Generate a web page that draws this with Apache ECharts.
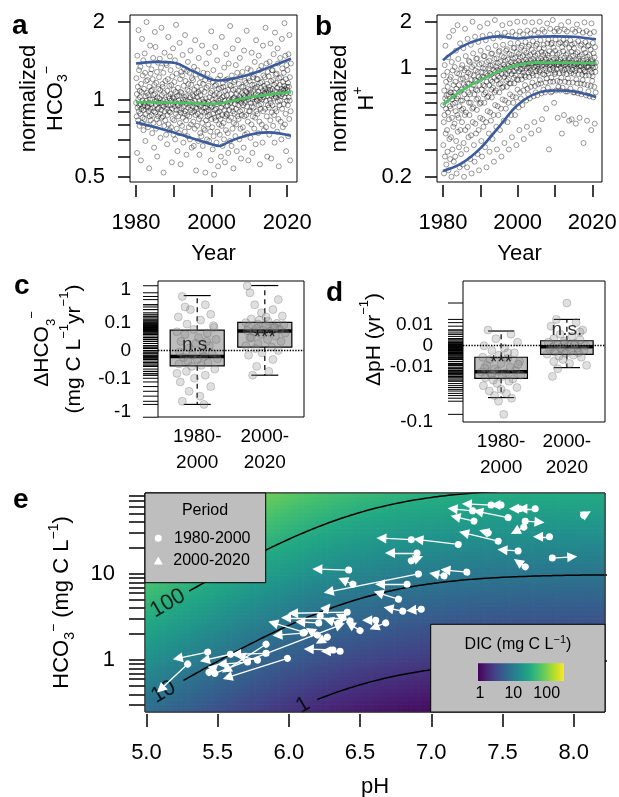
<!DOCTYPE html>
<html lang="en">
<head>
<meta charset="UTF-8">
<title>HCO3 and pH trends</title>
<style>
  html, body { margin: 0; padding: 0; background: #fff; }
  #main { width: 619px; height: 797px; }
</style>
</head>
<body>
<div id="main"></div>
<script src="https://cdn.jsdelivr.net/npm/echarts@6/dist/echarts.min.js"></script>
<script>
var FONT = '"Liberation Sans", Arial, sans-serif';

// ---- panels a, b: normalized samples, one row per year from 1980 ----
var firstYear = 1980;
var hco3Rows = [
  [0.97,1.21,0.86,1.05,0.62,1.48,0.93,1.12,0.83,1.0,1.86,0.9,1.3,0.95,0.79,1.08],
  [1.02,0.88,1.34,0.96,0.58,1.15,0.92,1.07,0.81,1.72,0.99,0.85,1.24,0.94,1.42,0.76],
  [0.91,1.1,0.97,0.84,1.51,0.95,1.27,0.69,1.03,0.88,1.18,0.99,2.0,0.8,1.06,0.93],
  [1.19,0.94,0.78,1.04,0.9,1.37,0.97,0.54,1.12,0.86,1.0,1.62,0.92,1.26,0.83,1.08],
  [0.96,1.31,0.87,1.09,0.74,1.0,1.2,0.93,1.45,0.81,1.04,0.9,0.65,1.14,0.98,1.83],
  [1.05,0.89,1.6,0.95,0.77,1.16,0.99,0.84,1.28,0.6,1.02,0.92,1.39,0.86,1.1,0.97],
  [0.93,1.22,0.81,1.01,1.44,0.88,1.09,0.71,0.97,1.33,0.91,1.9,0.85,1.04,0.95,1.15],
  [1.12,0.86,0.99,1.27,0.52,0.94,1.06,0.79,1.52,0.9,1.0,0.83,1.18,0.96,1.38,0.73],
  [0.98,1.36,0.92,0.67,1.08,0.87,1.2,0.95,1.75,0.8,1.03,0.9,1.13,0.76,1.01,1.47],
  [0.89,1.05,1.3,0.95,0.78,1.14,0.99,0.57,0.92,1.23,0.84,1.02,1.58,0.96,0.73,1.09],
  [1.01,0.83,1.17,0.94,1.42,0.7,0.98,1.07,0.88,1.95,0.91,1.26,0.77,1.03,0.96,0.63],
  [0.95,1.11,0.86,1.35,0.99,0.74,1.04,0.91,1.66,0.81,1.2,0.97,0.56,1.07,0.89,1.28],
  [1.06,0.92,0.79,1.24,0.97,1.49,0.85,1.0,0.68,1.13,0.94,1.31,0.88,1.02,0.75,1.78],
  [0.9,1.18,1.0,0.83,1.03,0.61,0.96,1.29,0.87,1.09,0.72,1.4,0.93,1.15,0.98,0.78],
  [1.08,0.86,1.27,0.95,0.7,1.02,1.55,0.91,0.8,1.14,0.98,0.65,1.21,0.89,1.04,0.94],
  [0.97,1.19,0.82,1.03,0.66,1.34,0.9,1.09,0.77,0.99,1.7,0.87,1.25,0.93,0.53,1.06],
  [0.92,1.12,0.79,1.02,1.3,0.88,0.96,0.69,1.07,1.45,0.84,0.99,0.61,1.16,0.94,0.74],
  [1.04,0.86,1.22,0.95,0.72,1.09,0.9,1.62,0.81,1.0,0.66,1.15,0.93,1.27,0.77,0.98],
  [0.89,1.07,0.97,0.76,1.19,0.52,0.93,1.01,0.83,1.38,0.9,1.11,0.7,0.96,1.26,0.86],
  [0.98,0.8,1.13,0.91,1.52,0.69,1.02,0.87,1.2,0.95,0.75,1.06,0.58,0.93,1.84,0.84],
  [0.94,1.08,0.78,1.0,0.64,1.17,0.88,1.3,0.72,0.97,0.51,1.04,0.85,1.13,0.91,1.6],
  [1.01,0.83,1.14,0.92,0.68,1.06,0.96,1.42,0.75,0.89,1.2,0.55,0.99,0.86,1.1,0.8],
  [0.9,1.05,0.73,0.97,1.24,0.84,1.0,0.6,1.11,0.93,0.79,1.75,0.87,1.02,0.66,1.16],
  [0.96,1.12,0.81,1.03,0.7,1.33,0.91,0.99,0.57,1.08,0.86,1.19,0.76,0.94,1.5,0.88],
  [1.04,0.87,1.2,0.95,0.74,1.09,0.62,0.99,1.38,0.83,1.0,0.91,1.14,0.69,1.93,0.97],
  [0.98,1.13,0.85,1.05,0.66,1.24,0.93,1.0,0.77,1.58,0.9,1.09,0.54,1.01,0.81,1.17],
  [1.02,0.88,1.19,0.96,0.72,1.1,1.36,0.92,0.8,1.05,0.63,0.99,1.27,0.86,1.0,1.7],
  [0.95,1.08,0.84,1.15,0.99,0.7,1.03,1.45,0.9,1.22,0.77,1.01,0.59,0.97,1.12,0.87],
  [1.06,0.91,1.28,1.0,0.78,1.12,0.95,0.65,1.04,1.55,0.86,1.18,0.97,0.73,1.08,1.02],
  [0.99,1.16,0.87,1.07,1.85,0.94,0.74,1.02,1.32,0.82,1.1,0.58,1.0,1.21,0.9,1.04],
  [1.03,1.18,0.9,1.09,0.71,1.3,0.97,1.06,0.8,1.52,0.94,1.14,0.62,1.0,0.86,1.22],
  [1.08,0.93,1.25,1.02,0.77,1.14,1.4,0.98,0.85,1.11,0.67,1.05,1.7,0.9,1.0,1.2],
  [0.99,1.12,0.88,1.2,1.04,0.74,1.07,1.48,0.95,1.3,0.82,1.02,0.56,1.01,1.16,0.92],
  [1.11,0.96,1.35,1.04,0.8,1.17,1.0,0.68,1.08,1.62,0.9,1.24,1.02,0.76,1.13,1.06],
  [1.05,1.22,0.92,1.1,1.9,0.99,0.78,1.07,1.38,0.86,1.15,0.6,1.03,1.28,0.95,1.09],
  [1.06,1.23,0.93,1.12,0.73,1.4,1.0,1.09,0.83,1.65,0.97,1.18,0.59,1.03,0.89,1.3],
  [1.1,0.95,1.3,1.05,0.79,1.19,1.5,1.01,0.87,1.14,0.68,1.08,1.82,0.92,1.03,1.25],
  [1.02,1.16,0.9,1.26,1.07,0.75,1.11,1.58,0.98,1.38,0.84,1.05,0.55,1.04,1.21,0.95],
  [1.14,0.99,1.45,1.07,0.82,1.22,1.03,0.7,1.1,1.72,0.92,1.32,1.05,0.78,1.17,1.09],
  [1.08,1.27,0.96,1.13,1.98,1.02,0.8,1.1,1.48,0.88,1.2,0.63,1.06,1.36,0.99,1.12],
  [1.09,1.3,0.95,1.16,0.72,1.5,1.02,1.12,0.84,1.78,0.99,1.22,0.58,1.06,0.9,1.38]
];
var hRows = [
  [0.58,0.32,0.9,0.45,0.21,0.72,0.5,1.05,0.27,0.64,1.4,0.38,0.55,0.82,0.24,0.67],
  [0.62,0.4,0.95,0.29,0.76,0.52,1.18,0.22,0.68,0.47,1.6,0.35,0.85,0.57,0.26,0.7],
  [0.55,0.88,0.36,0.7,0.2,1.1,0.48,0.63,0.3,0.97,0.59,1.75,0.42,0.78,0.25,0.66],
  [0.7,0.44,1.02,0.6,0.27,0.82,0.53,1.3,0.34,0.74,0.21,0.64,0.93,0.5,1.9,0.39],
  [0.66,1.15,0.48,0.78,0.31,0.92,0.57,0.23,0.71,1.45,0.4,0.85,0.62,0.28,1.0,0.54],
  [0.73,0.45,1.05,0.62,0.24,0.86,0.55,1.35,0.33,0.79,0.2,0.68,0.97,0.5,1.8,0.4],
  [0.76,1.2,0.52,0.88,0.3,1.0,0.64,0.23,0.8,1.55,0.42,0.94,0.7,0.36,1.12,0.6],
  [0.8,0.5,1.1,0.68,0.26,0.92,0.6,1.42,0.37,0.84,0.21,0.74,1.02,0.55,2.0,0.45],
  [0.78,1.25,0.56,0.9,0.32,1.05,0.68,0.25,0.84,1.6,0.44,0.97,0.73,0.38,1.15,0.63],
  [0.83,0.54,1.16,0.72,0.28,0.95,0.64,1.48,0.4,0.88,0.22,0.78,1.06,0.59,1.85,0.48],
  [0.85,1.3,0.6,0.95,0.34,1.08,0.73,0.27,0.88,1.62,0.47,1.0,0.78,0.42,1.2,0.68],
  [0.88,0.6,1.2,0.77,0.31,1.0,0.7,1.52,0.45,0.92,0.23,0.82,1.1,0.65,1.95,0.53],
  [0.9,1.35,0.66,1.0,0.38,1.12,0.78,0.29,0.93,1.65,0.52,1.04,0.84,0.46,1.24,0.73],
  [0.92,0.65,1.25,0.82,0.35,1.05,0.75,1.56,0.5,0.97,0.25,0.87,1.15,0.7,2.05,0.58],
  [0.95,1.4,0.72,1.03,0.42,1.16,0.84,0.3,0.98,1.68,0.57,1.08,0.89,0.5,1.28,0.79],
  [0.96,0.7,1.3,0.87,0.4,1.1,0.8,1.6,0.55,1.0,0.27,0.92,1.2,0.75,1.9,0.63],
  [0.99,1.42,0.76,1.06,0.46,1.18,0.88,0.33,1.02,1.7,0.62,1.12,0.92,0.55,1.3,0.83],
  [1.0,0.76,1.33,0.92,0.45,1.14,0.85,1.62,0.6,1.04,0.3,0.96,1.24,0.8,1.95,0.68],
  [1.02,1.45,0.8,1.1,0.5,1.22,0.92,0.36,1.06,1.72,0.66,1.16,0.96,0.6,1.35,0.87],
  [1.04,0.8,1.36,0.96,0.5,1.17,0.9,1.64,0.65,1.08,0.32,1.0,1.27,0.85,2.0,0.73],
  [1.05,1.46,0.84,1.12,0.56,1.24,0.96,0.4,1.08,1.73,0.7,1.18,0.99,0.64,1.36,0.9],
  [1.06,0.85,1.4,0.99,0.58,1.2,0.94,1.66,0.72,1.1,0.35,1.03,1.3,0.9,2.0,0.78],
  [1.07,1.48,0.88,1.14,0.62,1.26,1.0,0.42,1.1,1.75,0.74,1.2,1.02,0.68,1.38,0.94],
  [1.08,0.88,1.42,1.01,0.64,1.22,0.97,1.68,0.76,1.12,0.38,1.05,1.32,0.93,1.98,0.81],
  [1.08,1.5,0.9,1.15,0.66,1.27,1.02,0.45,1.11,1.76,0.77,1.21,1.04,0.7,1.4,0.96],
  [1.09,0.9,1.44,1.03,0.67,1.24,0.99,1.7,0.79,1.13,0.4,1.06,1.34,0.95,2.0,0.84],
  [0.97,1.52,1.09,0.8,1.16,0.69,1.28,1.04,0.47,1.12,1.78,0.92,1.22,1.05,0.73,1.42],
  [1.35,1.1,0.91,1.72,1.04,0.7,1.25,1.0,0.81,1.14,0.55,1.07,0.86,0.96,1.95,1.45],
  [1.22,0.75,1.09,1.53,0.93,1.17,0.3,1.29,1.05,0.98,1.12,1.8,0.82,1.06,0.7,1.43],
  [0.87,1.1,1.46,0.71,1.05,1.25,2.05,1.01,0.82,1.36,0.97,1.14,0.6,1.07,1.73,0.92],
  [1.3,0.94,1.54,1.09,0.72,1.17,1.05,0.99,1.8,0.83,1.23,0.48,1.13,1.06,0.76,1.44],
  [1.05,1.74,0.93,1.26,1.1,0.82,1.47,0.72,1.14,1.01,1.9,0.87,1.07,0.38,1.37,0.97],
  [0.75,1.09,1.29,0.94,1.53,1.05,0.5,1.17,0.98,1.78,1.12,0.82,1.43,1.06,0.71,1.22],
  [1.46,0.92,1.09,1.73,1.04,0.71,1.25,0.86,1.0,2.0,0.81,1.13,0.46,1.36,1.06,0.96],
  [1.16,1.52,0.74,1.09,1.04,0.93,1.28,0.47,1.42,1.12,0.98,1.78,0.81,1.21,0.7,1.05],
  [0.92,1.35,1.08,0.7,1.45,1.04,1.72,0.96,1.24,0.44,1.13,0.85,1.0,1.06,1.92,0.8],
  [1.27,1.08,0.69,1.5,1.15,0.92,1.03,1.76,0.97,0.48,1.2,1.11,0.73,1.4,0.8,1.04],
  [1.03,0.68,1.43,1.23,0.91,1.08,0.84,1.7,1.12,0.99,0.33,1.33,1.05,0.79,1.98,0.95],
  [0.96,1.26,1.48,0.9,1.08,0.67,1.14,1.74,1.02,0.46,1.19,0.78,1.39,1.1,1.03,0.71],
  [1.41,1.02,0.9,1.22,0.66,1.68,1.08,0.98,1.32,0.77,1.11,0.4,1.95,0.94,1.04,0.83],
  [1.13,0.89,1.46,1.01,0.65,1.25,1.08,1.72,0.76,1.18,0.44,1.37,1.02,0.95,0.7,1.09]
];

// smoothed quantile curves
var qYearsA = [1980, 1985, 1990, 1995, 2000, 2002, 2005, 2010, 2015, 2021];
var hco3Upper = [1.38, 1.40, 1.39, 1.29, 1.195, 1.185, 1.20, 1.25, 1.33, 1.44];
var hco3Median = [0.976, 0.975, 0.972, 0.968, 0.962, 0.965, 0.985, 1.02, 1.045, 1.068];
var hco3Lower = [0.815, 0.78, 0.745, 0.705, 0.67, 0.66, 0.69, 0.73, 0.745, 0.723];
var qYearsB = [1980, 1985, 1990, 1995, 2000, 2005, 2010, 2015, 2021];
var hUpper = [1.13, 1.38, 1.54, 1.61, 1.56, 1.60, 1.61, 1.60, 1.54];
var hMedian = [0.58, 0.72, 0.84, 0.96, 1.05, 1.09, 1.09, 1.085, 1.08];
var hLower = [0.218, 0.244, 0.305, 0.42, 0.58, 0.69, 0.72, 0.71, 0.655];

// ---- panels c, d: site trends [jitter, value] ----
var periods = ['1980-\n2000', '2000-\n2020'];
var dHco3Early = [[0.78,0.62],[1.12,0.35],[0.9,0.25],[1.2,0.18],[0.72,0.15],[1.05,0.12],[0.85,0.09],[1.25,0.07],[0.95,0.06],[0.7,0.05],[1.15,0.045],[0.82,0.04],[1.02,0.03],[1.28,0.025],[0.76,0.02],[0.98,0.015],[1.18,0.01],[0.88,0.005],[1.08,0.0],[0.74,-0.003],[1.22,-0.006],[0.93,-0.01],[1.1,-0.013],[0.8,-0.015],[1.3,-0.018],[1.0,-0.02],[0.86,-0.024],[1.16,-0.028],[0.73,-0.032],[1.06,-0.036],[0.92,-0.04],[1.26,-0.05],[0.84,-0.06],[1.12,-0.08],[0.96,-0.1],[0.75,-0.13],[1.2,-0.18],[0.88,-0.25],[1.04,-0.35],[0.78,-0.5],[1.1,-0.62],[0.82,0.3],[1.24,0.08],[0.7,-0.07],[1.14,0.02]];
var dHco3Late = [[1.74,1.3],[1.78,0.8],[2.2,0.5],[1.85,0.35],[2.12,0.25],[1.95,0.2],[2.26,0.16],[1.8,0.13],[2.05,0.11],[1.72,0.1],[2.18,0.095],[1.9,0.09],[2.28,0.085],[2.02,0.08],[1.76,0.075],[2.14,0.07],[1.88,0.065],[2.22,0.06],[1.98,0.057],[1.74,0.055],[2.08,0.053],[1.84,0.05],[2.3,0.045],[1.94,0.04],[2.16,0.035],[1.8,0.03],[2.04,0.025],[2.24,0.02],[1.9,0.015],[1.72,0.01],[2.1,0.007],[1.86,0.004],[2.2,0.0],[1.96,-0.005],[1.76,-0.01],[2.12,-0.02],[1.88,-0.04],[2.06,-0.06],[1.82,-0.08],[2.19,-1.5],[1.92,0.12],[2.15,0.07],[1.78,0.03],[2.02,0.15]];
var dPhEarly = [[0.8,0.007],[1.15,0.005],[0.92,0.003],[1.25,0.0015],[0.74,0.0],[1.05,-0.001],[0.86,-0.002],[1.2,-0.003],[0.97,-0.004],[0.72,-0.005],[1.1,-0.0055],[0.83,-0.006],[1.28,-0.007],[1.0,-0.008],[0.78,-0.009],[1.14,-0.01],[0.9,-0.011],[1.22,-0.012],[0.95,-0.0125],[0.7,-0.013],[1.07,-0.0135],[0.84,-0.014],[1.3,-0.015],[1.02,-0.016],[0.76,-0.017],[1.18,-0.018],[0.88,-0.019],[1.12,-0.02],[0.94,-0.022],[0.73,-0.024],[1.24,-0.026],[1.0,-0.028],[0.82,-0.03],[1.08,-0.033],[0.9,-0.036],[1.16,-0.04],[0.96,-0.045],[1.04,-0.075],[0.75,-0.0105],[1.26,-0.0085],[0.86,-0.0145],[1.1,-0.003]];
var dPhLate = [[2.0,0.027],[1.84,0.013],[2.14,0.011],[1.76,0.009],[2.24,0.007],[1.9,0.005],[2.08,0.004],[1.8,0.003],[2.2,0.0025],[1.96,0.002],[1.72,0.0015],[2.12,0.001],[1.86,0.0005],[2.28,0.0],[2.02,-0.0003],[1.78,-0.0006],[2.16,-0.001],[1.92,-0.0013],[1.74,-0.0016],[2.26,-0.002],[2.06,-0.0023],[1.82,-0.0026],[2.18,-0.003],[1.98,-0.0033],[1.7,-0.0036],[2.1,-0.004],[1.88,-0.0045],[2.22,-0.005],[1.94,-0.006],[1.8,-0.007],[2.04,-0.008],[2.3,-0.009],[1.86,-0.011],[1.78,-0.016],[2.12,0.0003],[1.9,-0.0008],[2.2,0.006],[1.96,0.0012]];
// [group, lower whisker, q1, median, q3, upper whisker]
var dHco3Box = [[1, -0.62, -0.038, -0.013, 0.057, 0.66], [2, -0.08, 0.007, 0.053, 0.102, 1.32]];
var dPhBox = [[1, -0.039, -0.0175, -0.0128, -0.005, 0.0065], [2, -0.0103, -0.0037, -0.0004, 0.0021, 0.013]];
var dHco3Sig = ['n.s.', '***'];
var dPhSig = ['***', 'n.s.'];
var cTicks = [1, 0.1, 0, -0.1, -1];
var dTicks = [0.01, 0, -0.01, -0.1];

// ---- panel e: site means [pH 1980-2000, HCO3, pH 2000-2020, HCO3] ----
var arrows = [
  [7.42,63,7.25,65],[7.49,63,7.45,63],[7.73,57,7.64,57],[7.62,57,7.58,57],[7.29,54,7.15,57],
  [7.54,45,7.33,53],[7.30,41,7.17,46],[7.66,41,7.76,40],[7.65,35,7.59,31],[7.83,27,7.75,27],
  [7.47,24,7.23,30],[7.40,30,7.37,31],[7.61,18.5,7.50,19],[7.66,12.1,7.61,13.8],[7.85,15.3,7.99,15.8],
  [8.07,48,8.09,50],[7.19,22,6.91,25],[7.25,10.5,7.10,11.1],[7.09,9.5,7.02,10.0],
  [6.86,25,6.65,26],[6.90,17.5,6.71,17.5],[6.86,14.2,6.91,15.3],[6.42,11.1,6.20,11.4],[6.45,7.6,6.38,8.5],
  [6.91,10.0,6.28,6.2],[6.83,7.6,6.64,7.6],[6.77,5.1,6.63,6.0],[6.80,3.7,6.70,4.0],[6.93,3.9,6.86,3.8],
  [6.61,2.9,6.55,2.9],[6.68,2.7,6.60,2.4],
  [6.41,3.6,6.03,3.5],[6.22,3.25,6.27,4.1],[6.38,3.1,5.98,3.1],[6.43,2.85,6.36,3.25],[6.50,2.2,6.43,2.6],
  [6.11,2.1,5.89,2.7],[6.20,1.95,6.15,2.2],[6.27,1.85,6.22,1.66],[6.31,1.31,6.14,1.34],[6.36,1.27,6.26,1.27],
  [5.48,0.70,6.36,2.55],[6.10,2.06,5.92,1.95],[6.35,2.7,6.28,2.9],[6.21,2.7,6.08,2.77],
  [5.29,0.90,5.10,0.46],[5.43,1.24,5.22,1.05],[5.59,1.17,5.41,1.0],[5.44,0.72,5.48,0.83],[5.71,0.95,5.53,0.90],
  [5.78,1.0,5.66,1.11],[5.84,1.53,5.56,0.77],[5.99,1.05,5.57,0.63],[5.84,1.2,5.63,1.17]
];
var dicLevels = [1, 10, 100];
var contourStart = [6.2, 5.26, 5.3];
var contourLabelPh = [6.1, 5.12, 5.15];
var pK1 = 6.47, pK2 = 10.3;

var viridis = ['#440154','#482475','#414487','#355f8d','#2a788e','#21918c','#22a884','#44bf70','#7ad151','#bddf26','#fde725'];

function hexRgb(h) { return [parseInt(h.substr(1,2),16), parseInt(h.substr(3,2),16), parseInt(h.substr(5,2),16)]; }
var viridisRgb = viridis.map(hexRgb);
function viridisColor(f) {
  f = Math.max(0, Math.min(1, f)) * (viridis.length - 1);
  var i = Math.min(Math.floor(f), viridis.length - 2), t = f - i;
  var a = viridisRgb[i], b = viridisRgb[i + 1];
  return 'rgb(' + Math.round(a[0] + (b[0]-a[0])*t) + ',' + Math.round(a[1] + (b[1]-a[1])*t) + ',' + Math.round(a[2] + (b[2]-a[2])*t) + ')';
}
function hco3AtDic(dic, ph) { return dic / (1 + Math.pow(10, pK1 - ph) + Math.pow(10, ph - pK2)); }

var kC = 0.03, kD = 0.011;
function tC(v) { return Math.asinh(v / kC); }
function tD(v) { return Math.asinh(v / kD); }

function cloud(rows) {
  var pts = [];
  rows.forEach(function (row, i) {
    row.forEach(function (v, j) { pts.push([firstYear + i + (j + 0.5) / row.length, v]); });
  });
  return pts;
}
function pairs(xs, ys) { return xs.map(function (x, i) { return [x, ys[i]]; }); }

var G = {
  a: {left: 130, top: 15, width: 167, height: 167},
  b: {left: 437, top: 15, width: 165, height: 167},
  c: {left: 158, top: 281, width: 146, height: 136},
  d: {left: 463, top: 281, width: 142, height: 141},
  e: {left: 145, top: 493, width: 460, height: 219}
};
var grids = ['a','b','c','d','e'].map(function (k) {
  return Object.assign({show: true, borderColor: '#000', borderWidth: 1, backgroundColor: 'transparent', containLabel: false, outerBoundsMode: 'none'}, G[k]);
});

var tickStyle = {color: '#000', width: 1.5};
var labelBase = {color: '#000', fontFamily: FONT};
var richBase = {
  n1: {fontSize: 22, lineHeight: 24, fontFamily: FONT, color: '#000'},
  m: {fontSize: 22, lineHeight: 30, fontFamily: FONT, color: '#000'},
  sb: {fontSize: 14, lineHeight: 14, verticalAlign: 'bottom', fontFamily: FONT, color: '#000'},
  sp: {fontSize: 14, lineHeight: 14, verticalAlign: 'top', fontFamily: FONT, color: '#000'},
  c: {fontSize: 21, lineHeight: 32, fontFamily: FONT, color: '#000'},
  csb: {fontSize: 13, lineHeight: 13, verticalAlign: 'bottom', fontFamily: FONT, color: '#000'},
  csp: {fontSize: 13, lineHeight: 13, verticalAlign: 'top', fontFamily: FONT, color: '#000'}
};
function plain(v) { return String(v); }

function yearAxis(gi) {
  return {
    type: 'value', gridIndex: gi, min: 1978.4, max: 2022.6, offset: 3,
    name: 'Year', nameLocation: 'middle', nameGap: 58,
    nameTextStyle: {fontSize: 22, color: '#000', fontFamily: FONT},
    axisLine: {show: false},
    axisTick: {show: true, length: 12, lineStyle: tickStyle, customValues: [1980, 1990, 2000, 2010, 2020]},
    axisLabel: Object.assign({customValues: [1980, 2000, 2020], margin: 27, fontSize: 22, formatter: plain}, labelBase),
    splitLine: {show: false}
  };
}
function groupAxis(gi) {
  return {
    type: 'value', gridIndex: gi, min: 0.42, max: 2.58,
    axisLine: {show: false}, axisTick: {show: false}, splitLine: {show: false},
    axisLabel: Object.assign({customValues: [1, 2], margin: 7, fontSize: 19, lineHeight: 26,
      formatter: function (v) { return periods[Math.round(v) - 1]; }}, labelBase)
  };
}
function trendAxis(gi, ticks, tf, min, max, margin, name, gap, pad) {
  return {
    type: 'value', gridIndex: gi, min: min, max: max,
    axisLine: {show: false}, axisTick: {show: false}, splitLine: {show: false},
    axisLabel: Object.assign({customValues: ticks.map(tf), margin: margin, fontSize: 19,
      formatter: function (val) {
        for (var i = 0; i < ticks.length; i++) { if (Math.abs(tf(ticks[i]) - val) < 1e-6) return String(ticks[i]); }
        return '';
      }}, labelBase),
    name: name, nameLocation: 'middle', nameRotate: 90, nameGap: gap,
    nameTextStyle: {rich: richBase, padding: pad || 0}
  };
}

var xAxes = [
  yearAxis(0), yearAxis(1), groupAxis(2), groupAxis(3),
  {
    type: 'value', gridIndex: 4, min: 4.99, max: 8.22, offset: 2,
    name: 'pH', nameLocation: 'middle', nameGap: 62,
    nameTextStyle: {fontSize: 22, color: '#000', fontFamily: FONT},
    axisLine: {show: false},
    axisTick: {length: 13, lineStyle: tickStyle, customValues: [5, 5.5, 6, 6.5, 7, 7.5, 8]},
    axisLabel: Object.assign({customValues: [5, 5.5, 6, 6.5, 7, 7.5, 8], margin: 28, fontSize: 22,
      formatter: function (v) { return v.toFixed(1); }}, labelBase),
    splitLine: {show: false}
  }
];

var eMinor = [0.3,0.4,0.5,0.6,0.7,0.8,0.9,1,2,3,4,5,6,7,8,9,10,20,30,40,50,60,70,80];
var yAxes = [
  {
    type: 'log', logBase: 10, gridIndex: 0, min: 0.478, max: 2.13,
    axisLine: {show: false}, splitLine: {show: false}, minorTick: {show: false},
    axisTick: {length: 12, lineStyle: tickStyle, customValues: [0.5, 0.6, 0.7, 0.8, 0.9, 1, 2]},
    axisLabel: Object.assign({customValues: [0.5, 1, 2], margin: 25, fontSize: 22}, labelBase),
    name: '{n1|normalized}\n{m|HCO}{sb|3}{sp|\u2212}', nameLocation: 'middle', nameRotate: 90, nameGap: 38,
    nameTextStyle: {rich: richBase}
  },
  {
    type: 'log', logBase: 10, gridIndex: 1, min: 0.185, max: 2.21,
    axisLine: {show: false}, splitLine: {show: false}, minorTick: {show: false},
    axisTick: {length: 12, lineStyle: tickStyle, customValues: [0.2, 0.3, 0.4, 0.5, 0.6, 0.7, 0.8, 0.9, 1, 2]},
    axisLabel: Object.assign({customValues: [0.2, 1, 2], margin: 25, fontSize: 22}, labelBase),
    name: '{n1|normalized}\n{m|H}{sp|+}', nameLocation: 'middle', nameRotate: 90, nameGap: 40,
    nameTextStyle: {rich: richBase}
  },
  trendAxis(2, cTicks, tC, -4.59, 4.79, 27,
    '{c|\u0394HCO}{csb|3}{csp|\u2212}\n{c|(mg C L}{csp|\u22121}{c|yr}{csp|\u22121}{c|)}', 68),
  trendAxis(3, dTicks, tD, -2.91, 2.47, 30,
    '{c|\u0394pH (yr}{csp|\u22121}{c|)}', 73, [0, 0, 0, 24]),
  {
    type: 'log', logBase: 10, gridIndex: 4, min: 0.25, max: 87,
    axisLine: {show: false}, splitLine: {show: false}, minorTick: {show: false},
    axisTick: {length: 16, lineStyle: tickStyle, customValues: eMinor},
    axisLabel: Object.assign({customValues: [1, 10], margin: 30, fontSize: 22}, labelBase),
    name: '{m|HCO}{sb|3}{sp|\u2212}{m| (mg C L}{sp|\u22121}{m|)}', nameLocation: 'middle', nameRotate: 90, nameGap: 68,
    nameTextStyle: {rich: richBase}
  }
];

// background DIC field
var heat = [];
(function () {
  var NX = 96, NY = 56, x0 = 4.99, x1 = 8.22, l0 = Math.log10(0.25), l1 = Math.log10(87);
  for (var i = 0; i < NX; i++) {
    for (var j = 0; j < NY; j++) {
      var pa = x0 + (x1 - x0) * i / NX, pb = x0 + (x1 - x0) * (i + 1) / NX;
      var la = l0 + (l1 - l0) * j / NY, lb = l0 + (l1 - l0) * (j + 1) / NY;
      var pc = (pa + pb) / 2, lc = (la + lb) / 2;
      var dic = Math.pow(10, lc) * (1 + Math.pow(10, pK1 - pc) + Math.pow(10, pc - pK2));
      heat.push([pa, pb, Math.pow(10, la), Math.pow(10, lb), (Math.log10(dic) + 0.6) / 4.2]);
    }
  }
})();

function contour(level, start) {
  var pts = [];
  for (var ph = start; ph <= 8.3; ph += 0.02) pts.push([ph, hco3AtDic(level, ph)]);
  return pts;
}

function boxRender(params, api) {
  var x = api.value(0);
  var lo = api.coord([x, api.value(1)]), q1 = api.coord([x, api.value(2)]), md = api.coord([x, api.value(3)]),
      q3 = api.coord([x, api.value(4)]), hi = api.coord([x, api.value(5)]);
  var half = api.size([0.4, 0])[0], cap = half / 2, cx = lo[0];
  var dash = {stroke: '#000', lineWidth: 1.2, lineDash: [5, 4]}, solid = {stroke: '#000', lineWidth: 1.2};
  return {type: 'group', children: [
    {type: 'line', shape: {x1: cx, y1: q3[1], x2: cx, y2: hi[1]}, style: dash},
    {type: 'line', shape: {x1: cx, y1: q1[1], x2: cx, y2: lo[1]}, style: dash},
    {type: 'line', shape: {x1: cx - cap, y1: hi[1], x2: cx + cap, y2: hi[1]}, style: solid},
    {type: 'line', shape: {x1: cx - cap, y1: lo[1], x2: cx + cap, y2: lo[1]}, style: solid},
    {type: 'rect', shape: {x: cx - half, y: q3[1], width: 2 * half, height: q1[1] - q3[1]}, style: {fill: '#bdbdbd', stroke: '#000', lineWidth: 1.2}},
    {type: 'line', shape: {x1: cx - half, y1: md[1], x2: cx + half, y2: md[1]}, style: {stroke: '#000', lineWidth: 3.5}}
  ]};
}
function rugRender(params, api) {
  var p = api.coord([api.value(0), api.value(1)]);
  return {type: 'line', shape: {x1: p[0] - 15, y1: p[1], x2: p[0], y2: p[1]}, style: {stroke: '#000', lineWidth: 1}};
}

function trendSeries(gi, early, late, box, sig, sigY, tf) {
  var all = early.concat(late);
  var zeroLine = {silent: true, symbol: ['none', 'none'], label: {show: false},
    lineStyle: {type: 'dotted', color: '#000', width: 1.4}, data: [{yAxis: 0}]};
  return [
    {type: 'custom', xAxisIndex: gi, yAxisIndex: gi, z: 2, renderItem: boxRender,
      data: box.map(function (b) { return [b[0]].concat(b.slice(1).map(tf)); })},
    {type: 'scatter', xAxisIndex: gi, yAxisIndex: gi, z: 3, symbolSize: 8, markLine: zeroLine,
      itemStyle: {color: 'rgba(140,140,140,0.35)', borderColor: 'rgba(90,90,90,0.35)', borderWidth: 1},
      data: all.map(function (p) { return [p[0], tf(p[1])]; })},
    {type: 'custom', xAxisIndex: gi, yAxisIndex: gi, z: 3, renderItem: rugRender, clip: false,
      data: all.map(function (p) { return [0.42, tf(p[1])]; })},
    {type: 'scatter', xAxisIndex: gi, yAxisIndex: gi, z: 4, symbolSize: 0,
      label: {show: true, position: 'inside', formatter: '{b}', fontSize: 19, color: '#000', fontFamily: FONT},
      data: sig.map(function (s, i) { return {name: s, value: [i + 1, tf(sigY[i])]}; })}
  ];
}

var cloudStyle = {color: 'rgba(0,0,0,0)', borderColor: 'rgba(0,0,0,0.55)', borderWidth: 0.9};
var series = [
  {type: 'scatter', xAxisIndex: 0, yAxisIndex: 0, symbolSize: 5, z: 2, itemStyle: cloudStyle, data: cloud(hco3Rows)},
  {type: 'line', xAxisIndex: 0, yAxisIndex: 0, smooth: 0.35, showSymbol: false, z: 3, lineStyle: {color: '#3a5b9c', width: 2.6}, data: pairs(qYearsA, hco3Upper)},
  {type: 'line', xAxisIndex: 0, yAxisIndex: 0, smooth: 0.35, showSymbol: false, z: 3, lineStyle: {color: '#4cc261', width: 2.6}, data: pairs(qYearsA, hco3Median)},
  {type: 'line', xAxisIndex: 0, yAxisIndex: 0, smooth: 0.35, showSymbol: false, z: 3, lineStyle: {color: '#3a5b9c', width: 2.6}, data: pairs(qYearsA, hco3Lower)},
  {type: 'scatter', xAxisIndex: 1, yAxisIndex: 1, symbolSize: 5, z: 2, itemStyle: cloudStyle, data: cloud(hRows)},
  {type: 'line', xAxisIndex: 1, yAxisIndex: 1, smooth: 0.35, showSymbol: false, z: 3, lineStyle: {color: '#3a5b9c', width: 2.6}, data: pairs(qYearsB, hUpper)},
  {type: 'line', xAxisIndex: 1, yAxisIndex: 1, smooth: 0.35, showSymbol: false, z: 3, lineStyle: {color: '#4cc261', width: 2.6}, data: pairs(qYearsB, hMedian)},
  {type: 'line', xAxisIndex: 1, yAxisIndex: 1, smooth: 0.35, showSymbol: false, z: 3, lineStyle: {color: '#3a5b9c', width: 2.6}, data: pairs(qYearsB, hLower)}
]
.concat(trendSeries(2, dHco3Early, dHco3Late, dHco3Box, dHco3Sig, [0.0117, 0.029], tC))
.concat(trendSeries(3, dPhEarly, dPhLate, dPhBox, dPhSig, [-0.0078, 0.007], tD))
.concat([
  {type: 'custom', xAxisIndex: 4, yAxisIndex: 4, z: 1, clip: true, progressive: 0, silent: true,
    encode: {x: 0, y: 2},
    renderItem: function (params, api) {
      var a = api.coord([api.value(0), api.value(2)]), b = api.coord([api.value(1), api.value(3)]);
      return {type: 'rect', shape: {x: a[0], y: b[1], width: b[0] - a[0] + 0.7, height: a[1] - b[1] + 0.7},
        style: {fill: viridisColor(api.value(4))}};
    },
    data: heat}
])
.concat(dicLevels.map(function (lv, i) {
  return {type: 'line', xAxisIndex: 4, yAxisIndex: 4, z: 2, showSymbol: false, silent: true,
    lineStyle: {color: '#000', width: 1.5}, data: contour(lv, contourStart[i])};
}))
.concat([
  {type: 'scatter', xAxisIndex: 4, yAxisIndex: 4, z: 2, symbolSize: 0, silent: true,
    label: {show: true, position: 'inside', formatter: '{b}', fontSize: 22, color: '#000', fontFamily: FONT, rotate: 30},
    data: dicLevels.map(function (lv, i) { return {name: String(lv), value: [contourLabelPh[i], hco3AtDic(lv, contourLabelPh[i])]}; })},
  {type: 'lines', coordinateSystem: 'cartesian2d', xAxisIndex: 4, yAxisIndex: 4, z: 3, silent: true,
    symbol: ['circle', 'triangle'], symbolSize: [7, 10],
    lineStyle: {color: '#fff', width: 1.3, opacity: 1},
    data: arrows.map(function (a) { return {coords: [[a[0], a[1]], [a[2], a[3]]]}; })}
]);

function txt(t, x, y, size, opt) {
  return Object.assign({type: 'text', z: 100, style: {text: t, x: x, y: y, fill: '#000',
    font: (opt && opt.bold ? 'bold ' : '') + size + 'px ' + FONT,
    align: (opt && opt.align) || 'left', textAlign: (opt && opt.align) || 'left',
    verticalAlign: 'middle', textVerticalAlign: 'middle', rich: opt && opt.rich}});
}
var barStops = viridis.map(function (c, i) { return {offset: i / (viridis.length - 1), color: c}; });
var graphics = [
  txt('a', 12, 26, 28, {bold: true}), txt('b', 315, 27, 28, {bold: true}),
  txt('c', 14, 286, 28, {bold: true}), txt('d', 326, 293, 28, {bold: true}),
  txt('e', 13, 500, 28, {bold: true}),
  {type: 'rect', z: 99, shape: {x: G.e.left, y: G.e.top, width: G.e.width, height: G.e.height}, style: {fill: 'none', stroke: '#333', lineWidth: 1}},
  {type: 'rect', z: 100, shape: {x: 145, y: 493, width: 120.7, height: 89.7}, style: {fill: '#bebebe', stroke: '#000', lineWidth: 1}},
  txt('Period', 205, 511, 16, {align: 'center'}),
  {type: 'circle', z: 101, shape: {cx: 158.3, cy: 538.3, r: 3.5}, style: {fill: '#fff'}},
  txt('1980-2000', 174, 538.3, 16),
  {type: 'polygon', z: 101, shape: {points: [[158.3, 556.5], [153.8, 564.5], [162.8, 564.5]]}, style: {fill: '#fff'}},
  txt('2000-2020', 173.3, 560.7, 16),
  {type: 'rect', z: 100, shape: {x: 430.7, y: 624.3, width: 174.3, height: 87.7}, style: {fill: '#bebebe', stroke: '#000', lineWidth: 1}},
  {type: 'text', z: 101, style: {text: '{t|DIC (mg C L}{s|\u22121}{t|)}', x: 518, y: 645, align: 'center', textAlign: 'center', verticalAlign: 'middle', textVerticalAlign: 'middle',
    rich: {t: {fontSize: 16, lineHeight: 22, fontFamily: FONT, fill: '#000', color: '#000'}, s: {fontSize: 11, lineHeight: 11, verticalAlign: 'top', fontFamily: FONT, fill: '#000', color: '#000'}}}},
  {type: 'rect', z: 101, shape: {x: 478, y: 663.3, width: 86, height: 17.7},
    style: {fill: new echarts.graphic.LinearGradient(0, 0, 1, 0, barStops)}},
  txt('1', 480, 693.3, 16, {align: 'center'}), txt('10', 513.3, 693.3, 16, {align: 'center'}), txt('100', 546.7, 693.3, 16, {align: 'center'})
];

var chart = echarts.init(document.getElementById('main'), null, {renderer: 'canvas'});
chart.setOption({
  animation: false,
  backgroundColor: '#fff',
  textStyle: {fontFamily: FONT},
  grid: grids,
  xAxis: xAxes,
  yAxis: yAxes,
  series: series,
  graphic: {elements: graphics}
});
</script>
</body>
</html>
